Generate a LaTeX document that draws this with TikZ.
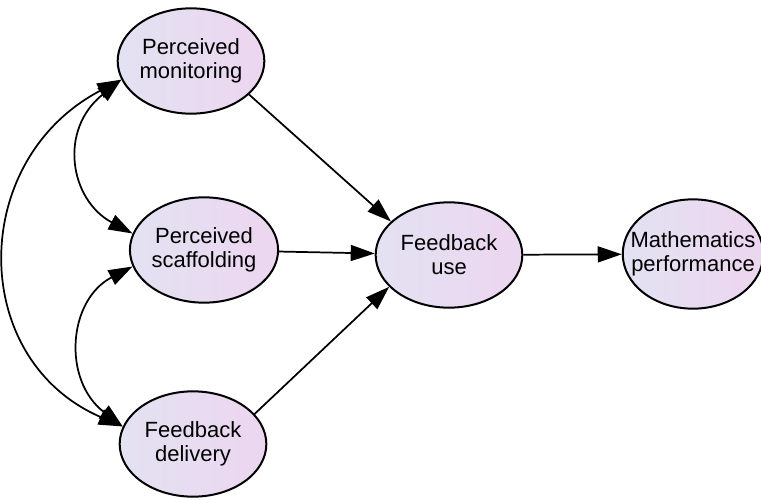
\documentclass[tikz,border=0pt]{standalone}
\usepackage{fontspec}
\setmainfont{Liberation Sans}
\usetikzlibrary{arrows.meta,shapes.geometric}
\definecolor{fillL}{RGB}{226,226,242}
\definecolor{fillR}{RGB}{237,214,240}
\tikzset{
  construct/.style={ellipse, draw=black, line width=1.5pt,
    left color=fillL, right color=fillR,
    minimum width=110pt, minimum height=79pt, inner sep=0pt,
    align=center, font=\fontsize{16.5}{18}\selectfont},
  tip/.tip={Triangle[length=18pt,width=12pt]},
  dirpath/.style={line width=1.3pt, -tip},
  covar/.style={line width=1.3pt, tip-tip}
}
\begin{document}
\begin{tikzpicture}[x=0.75pt,y=-0.75pt]
  \useasboundingbox (0,0) rectangle (761,500);
  \clip (0,0) rectangle (761,500);
  % constructs
  \node[construct] (mon)  at (191,61)  {Perceived\\monitoring};
  \node[construct] (scaf) at (204,250) {Perceived\\scaffolding};
  \node[construct] (del)  at (193,444) {Feedback\\delivery};
  \node[construct] (use)  at (449,255) {Feedback\\use};
  \node[construct, inner xsep=-9.5pt, minimum width=103pt, minimum height=82pt] (math) at (693,254) {Mathematics\\performance};
  % directed paths
  \draw[dirpath] (mon.-30) -- (use.150);
  \draw[dirpath] (scaf) -- (use);
  \draw[dirpath] (del.26) -- (use.208);
  \draw[dirpath] (use) -- (math);
  % covariances
  \draw[covar] (mon.195) .. controls (-32,160) and (-32,360) .. (del.166);
  \draw[covar] (mon.195) .. controls (58,130) and (70,200) .. (scaf.167);
  \draw[covar] (scaf.193) .. controls (68,300) and (62,380) .. (del.166);
\end{tikzpicture}
\end{document}
